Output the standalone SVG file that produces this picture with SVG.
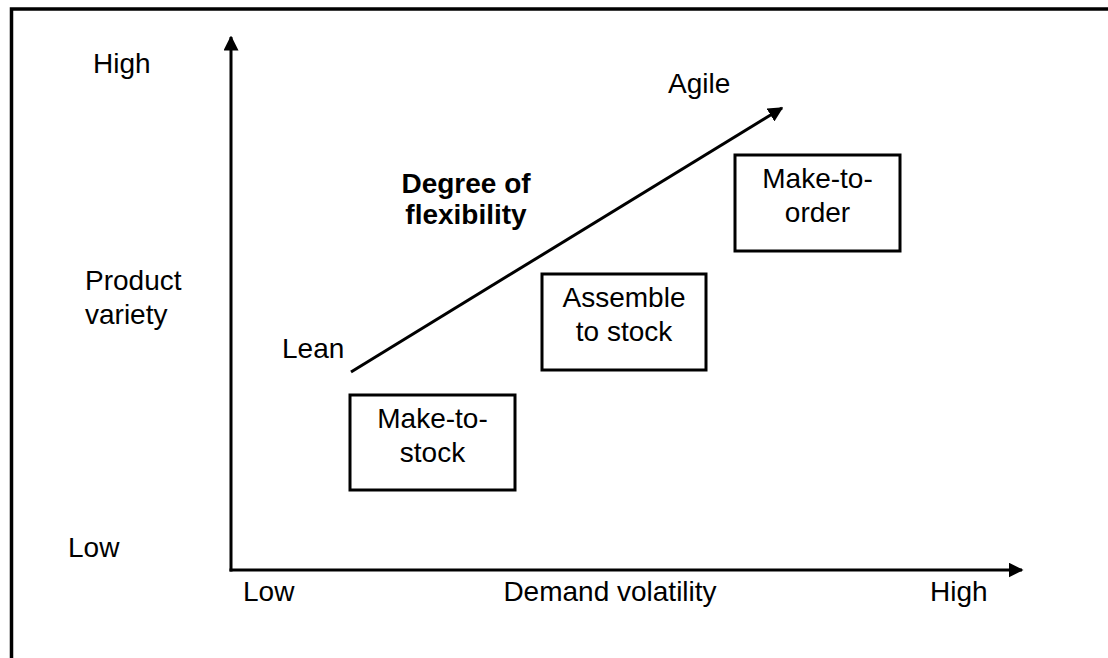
<svg xmlns="http://www.w3.org/2000/svg" width="1108" height="658" viewBox="0 0 1108 658">
<style>
text{font-family:"Liberation Sans",Arial,sans-serif;font-size:28px;fill:#000}
.c{text-anchor:middle}
.b{font-weight:bold}
.box{fill:#fff;stroke:#000;stroke-width:3}
.ln{stroke:#000;stroke-width:3;fill:none}
</style>
<defs>
<marker id="ah" viewBox="0 0 10 10" refX="9" refY="5" markerWidth="5" markerHeight="5" orient="auto" markerUnits="strokeWidth">
<path d="M0,0 L10,5 L0,10 z" fill="#000"/>
</marker>
</defs>
<rect width="1108" height="658" fill="#fff"/>
<path d="M11.5,658 V9 H1108" fill="none" stroke="#000" stroke-width="3.5"/>
<g id="connectors">
<line class="ln" x1="231" y1="571.5" x2="231" y2="37" marker-end="url(#ah)"/>
<line class="ln" x1="229.5" y1="570" x2="1022" y2="570" marker-end="url(#ah)"/>
<line class="ln" x1="351" y1="372" x2="782" y2="108" marker-end="url(#ah)"/>
</g>
<g id="axis-labels">
<text x="93" y="73">High</text>
<text x="85" y="290">Product</text>
<text x="85" y="324">variety</text>
<text x="68" y="557">Low</text>
<text x="243" y="601">Low</text>
<text class="c" x="610" y="601">Demand volatility</text>
<text x="930" y="601">High</text>
<text x="282" y="358">Lean</text>
<text x="668" y="93">Agile</text>
<text class="c b" x="466" y="193">Degree of</text>
<text class="c b" x="466" y="224">flexibility</text>
</g>
<g id="make-to-stock">
<rect class="box" x="350" y="395" width="165" height="95"/>
<text class="c" x="432.5" y="428">Make-to-</text>
<text class="c" x="432.5" y="462">stock</text>
</g>
<g id="assemble-to-stock">
<rect class="box" x="542" y="274" width="164" height="96"/>
<text class="c" x="624" y="307">Assemble</text>
<text class="c" x="624" y="341">to stock</text>
</g>
<g id="make-to-order">
<rect class="box" x="735" y="155" width="165" height="96"/>
<text class="c" x="817.5" y="188">Make-to-</text>
<text class="c" x="817.5" y="222">order</text>
</g>
</svg>
